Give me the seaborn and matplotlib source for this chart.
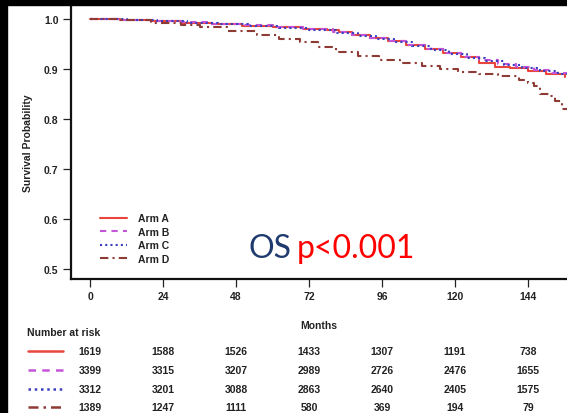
"""
Kaplan-Meier style overall survival plot, four arms, with number-at-risk table
"""
import numpy as np
import pandas as pd
import matplotlib
matplotlib.use('Agg')
import matplotlib.pyplot as plt
import matplotlib.transforms as mtransforms
from matplotlib.lines import Line2D
from matplotlib.patches import Rectangle
import seaborn as sns

# ── Data ──
ARMS = ['Arm A', 'Arm B', 'Arm C', 'Arm D']

months_a = [0, 10, 20, 30, 40, 50, 60, 70, 78, 82, 86, 92, 98, 104, 110, 116, 122, 128, 133, 138, 144, 150, 156]
surv_a = [1.0, 0.999, 0.996, 0.993, 0.990, 0.987, 0.984, 0.981, 0.979, 0.974, 0.969, 0.963, 0.957, 0.949, 0.940,
          0.932, 0.924, 0.913, 0.905, 0.902, 0.897, 0.891, 0.885]

months_b = [0, 10, 20, 30, 40, 50, 60, 70, 80, 86, 92, 98, 104, 110, 116, 122, 128, 134, 140, 146, 152, 157]
surv_b = [1.0, 0.999, 0.997, 0.994, 0.991, 0.988, 0.984, 0.980, 0.975, 0.969, 0.963, 0.956, 0.949, 0.941,
          0.933, 0.925, 0.918, 0.911, 0.904, 0.898, 0.892, 0.886]

months_c = [0, 12, 22, 32, 42, 52, 62, 72, 81, 88, 94, 100, 106, 112, 118, 124, 130, 136, 142, 148, 154, 157]
surv_c = [1.0, 0.999, 0.996, 0.993, 0.990, 0.987, 0.983, 0.979, 0.973, 0.967, 0.961, 0.954, 0.947, 0.939,
          0.931, 0.923, 0.916, 0.909, 0.902, 0.896, 0.890, 0.886]

months_d = [0, 10, 20, 30, 36, 45, 55, 62, 69, 75, 81, 88, 95, 102, 109, 115, 121, 128, 134, 141, 144, 146,
            148, 151, 153, 155, 157]
surv_d = [1.0, 0.998, 0.993, 0.988, 0.984, 0.976, 0.968, 0.960, 0.954, 0.945, 0.934, 0.926, 0.918, 0.912,
          0.906, 0.900, 0.894, 0.890, 0.886, 0.878, 0.872, 0.866, 0.850, 0.846, 0.836, 0.820, 0.820]

TICK_MONTHS = [0, 24, 48, 72, 96, 120, 144]
at_risk_a = [1619, 1588, 1526, 1433, 1307, 1191, 738]
at_risk_b = [3399, 3315, 3207, 2989, 2726, 2476, 1655]
at_risk_c = [3312, 3201, 3088, 2863, 2640, 2405, 1575]
at_risk_d = [1389, 1247, 1111, 580, 369, 194, 79]

COLORS = {'Arm A': '#E8453C', 'Arm B': '#C455D8', 'Arm C': '#3A3FC0', 'Arm D': '#8E3B36'}
STYLES = {'Arm A': '-', 'Arm B': (0, (3, 2.5)), 'Arm C': (0, (1, 1.5)), 'Arm D': (0, (4, 2, 1, 2))}

sns.set_style('ticks')
plt.rcParams['font.family'] = ['Liberation Sans', 'DejaVu Sans']

W, H = 567, 414
fig = plt.figure(figsize=(W / 100, H / 100), dpi=100)
ax = fig.add_axes([71 / W, 1 - 280 / H, (W - 71) / W, (280 - 6) / H])

curves = {'Arm A': (months_a, surv_a), 'Arm B': (months_b, surv_b),
          'Arm C': (months_c, surv_c), 'Arm D': (months_d, surv_d)}
for arm in ARMS:
    t, s = curves[arm]
    df = pd.DataFrame({'Months': t, 'Survival': s})
    sns.lineplot(data=df, x='Months', y='Survival', ax=ax, drawstyle='steps-post',
                 estimator=None, color=COLORS[arm], linestyle=STYLES[arm],
                 linewidth=1.5, label=arm)

ax.set_xlim(-6.25, 156.8)
ax.set_ylim(0.48, 1.028)
ax.set_xticks(TICK_MONTHS)
ax.set_yticks([0.5, 0.6, 0.7, 0.8, 0.9, 1.0])
ax.set_yticklabels(['0.5', '0.6', '0.7', '0.8', '0.9', '1.0'])
for sp in ['top', 'right']:
    ax.spines[sp].set_visible(False)
for sp in ['left', 'bottom']:
    ax.spines[sp].set_linewidth(1.6)
    ax.spines[sp].set_color('#111111')
ax.tick_params(axis='both', direction='out', length=6, width=0.9, labelsize=7.5, pad=3, colors='#222222')
for lab in ax.get_xticklabels() + ax.get_yticklabels():
    lab.set_fontweight('bold')
ax.set_xlabel('Months', fontsize=7.5, fontweight='bold', labelpad=13, color='#222222')
ax.set_ylabel('Survival Probability', fontsize=7.5, fontweight='bold', labelpad=8, color='#222222')

leg = ax.legend(loc='lower left', bbox_to_anchor=(0.04, 0.02), frameon=False,
                prop={'size': 7.5, 'weight': 'bold'}, handlelength=2.6, labelspacing=0.35,
                handletextpad=1.0)
for txt in leg.get_texts():
    txt.set_color('#222222')

# annotation
fig.text(248 / W, 1 - 258 / H, 'OS', fontsize=23, color='#1F3A6E', family='Lato', va='baseline')
fig.text(297 / W, 1 - 258 / H, 'p<0.001', fontsize=23, color='#FF0000', family='Lato', va='baseline')

# number at risk table
trans = mtransforms.blended_transform_factory(ax.transData, fig.transFigure)
fig.text(27 / W, 1 - 333 / H, 'Number at risk', fontsize=7.5, fontweight='bold', color='#222222', va='center')
rows = [at_risk_a, at_risk_b, at_risk_c, at_risk_d]
row_y = [352, 371, 390, 408]
for arm, vals, yp in zip(ARMS, rows, row_y):
    yf = 1 - yp / H
    fig.add_artist(Line2D([28 / W, 63 / W], [yf, yf], transform=fig.transFigure,
                          color=COLORS[arm], linestyle=STYLES[arm], linewidth=1.8))
    for m, v in zip(TICK_MONTHS, vals):
        ax.text(m, yf, str(v), transform=trans, ha='center', va='center',
                fontsize=7.5, fontweight='bold', color='#222222', clip_on=False)

# black frame edges from the screenshot
fig.add_artist(Rectangle((0, 1 - 6 / H), 1, 6 / H, transform=fig.transFigure, color='black', zorder=10))
fig.add_artist(Rectangle((0, 0), 7 / W, 1, transform=fig.transFigure, color='black', zorder=10))

fig.savefig('out.png', dpi=100)
